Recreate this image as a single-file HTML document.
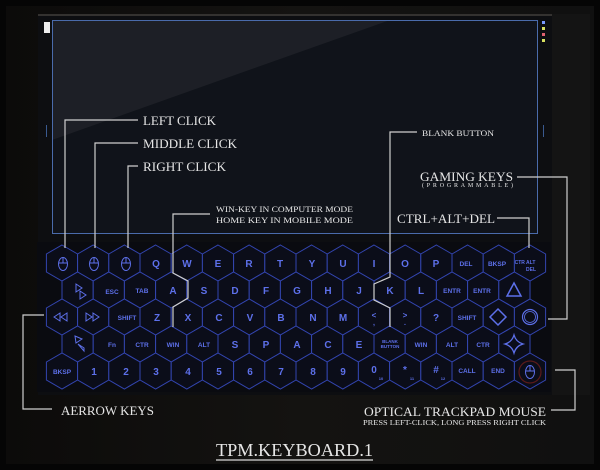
<!DOCTYPE html>
<html><head><meta charset="utf-8"><style>
html,body{margin:0;padding:0;background:#050505;}
svg{display:block;}
.k{font-family:"Liberation Sans",sans-serif;font-weight:bold;fill:#5d70ea;text-anchor:middle;}
.l{font-family:"Liberation Serif",serif;fill:#e6e6e6;}
</style></head><body>
<svg width="600" height="470" viewBox="0 0 600 470" xmlns="http://www.w3.org/2000/svg">
<defs>
<linearGradient id="bgg" x1="0" y1="0" x2="1" y2="0">
<stop offset="0" stop-color="#0c0b0a"/><stop offset="0.5" stop-color="#141311"/><stop offset="1" stop-color="#101010"/>
</linearGradient>
<polygon id="h" points="0,-18 15.6,-9 15.6,9 0,18 -15.6,9 -15.6,-9" fill="#0b0d19" stroke="#3345b0" stroke-width="1"/>
<g id="m"><ellipse cx="0" cy="0" rx="4.5" ry="6.5" fill="none" stroke="#5d70ea" stroke-width="1"/><line x1="0" y1="-6" x2="0" y2="-1" stroke="#5d70ea"/><line x1="-4" y1="-1" x2="4" y2="-1" stroke="#5d70ea"/></g>
</defs>
<rect x="0" y="0" width="600" height="470" fill="#050505"/>
<rect x="6" y="6" width="588" height="458" fill="url(#bgg)"/>
<!-- device -->
<rect x="38" y="14" width="514" height="381" fill="#0d0e11"/>
<line x1="38" y1="15" x2="552" y2="15" stroke="#5a5650" stroke-width="1"/>
<rect x="552" y="14" width="38" height="381" fill="#141414"/>
<!-- screen -->
<rect x="52" y="20" width="486" height="214" fill="#10131a"/>
<polygon points="52,20 390,20 52,140" fill="#1f2128" opacity="0.9"/>
<rect x="52.5" y="20.5" width="485" height="213" fill="none" stroke="#4a6bab" stroke-width="1"/>
<rect x="44" y="22" width="6" height="11" fill="#eee"/>
<rect x="46" y="125" width="1" height="12" fill="#3a5a90"/>
<rect x="543" y="125" width="1" height="12" fill="#3a5a90"/>
<rect x="542" y="21" width="3" height="3" fill="#7a9aff"/>
<rect x="542" y="27" width="3" height="3" fill="#d8e060"/>
<rect x="542" y="33" width="3" height="3" fill="#e06070"/>
<rect x="542" y="39" width="3" height="3" fill="#d8e060"/>
<!-- keyboard panel -->
<rect x="37" y="242" width="514" height="150" fill="#0a0b10"/>
<g>
<!-- row1 y263 -->
<use href="#h" x="62" y="263"/><use href="#h" x="93.2" y="263"/><use href="#h" x="124.4" y="263"/><use href="#h" x="155.6" y="263"/><use href="#h" x="186.8" y="263"/><use href="#h" x="218" y="263"/><use href="#h" x="249.2" y="263"/><use href="#h" x="280.4" y="263"/><use href="#h" x="311.6" y="263"/><use href="#h" x="342.8" y="263"/><use href="#h" x="374" y="263"/><use href="#h" x="405.2" y="263"/><use href="#h" x="436.4" y="263"/><use href="#h" x="467.6" y="263"/><use href="#h" x="498.8" y="263"/><use href="#h" x="530" y="263"/>
<!-- row2 y290 -->
<use href="#h" x="77.6" y="290"/><use href="#h" x="108.8" y="290"/><use href="#h" x="140" y="290"/><use href="#h" x="171.2" y="290"/><use href="#h" x="202.4" y="290"/><use href="#h" x="233.6" y="290"/><use href="#h" x="264.8" y="290"/><use href="#h" x="296" y="290"/><use href="#h" x="327.2" y="290"/><use href="#h" x="358.4" y="290"/><use href="#h" x="389.6" y="290"/><use href="#h" x="420.8" y="290"/><use href="#h" x="452" y="290"/><use href="#h" x="483.2" y="290"/><use href="#h" x="514.4" y="290"/>
<!-- row3 y317 -->
<use href="#h" x="62" y="317"/><use href="#h" x="93.2" y="317"/><use href="#h" x="124.4" y="317"/><use href="#h" x="155.6" y="317"/><use href="#h" x="186.8" y="317"/><use href="#h" x="218" y="317"/><use href="#h" x="249.2" y="317"/><use href="#h" x="280.4" y="317"/><use href="#h" x="311.6" y="317"/><use href="#h" x="342.8" y="317"/><use href="#h" x="374" y="317"/><use href="#h" x="405.2" y="317"/><use href="#h" x="436.4" y="317"/><use href="#h" x="467.6" y="317"/><use href="#h" x="498.8" y="317"/><use href="#h" x="530" y="317"/>
<!-- row4 y344 -->
<use href="#h" x="77.6" y="344"/><use href="#h" x="108.8" y="344"/><use href="#h" x="140" y="344"/><use href="#h" x="171.2" y="344"/><use href="#h" x="202.4" y="344"/><use href="#h" x="233.6" y="344"/><use href="#h" x="264.8" y="344"/><use href="#h" x="296" y="344"/><use href="#h" x="327.2" y="344"/><use href="#h" x="358.4" y="344"/><use href="#h" x="389.6" y="344"/><use href="#h" x="420.8" y="344"/><use href="#h" x="452" y="344"/><use href="#h" x="483.2" y="344"/><use href="#h" x="514.4" y="344"/>
<!-- row5 y371 -->
<use href="#h" x="62" y="371"/><use href="#h" x="93.2" y="371"/><use href="#h" x="124.4" y="371"/><use href="#h" x="155.6" y="371"/><use href="#h" x="186.8" y="371"/><use href="#h" x="218" y="371"/><use href="#h" x="249.2" y="371"/><use href="#h" x="280.4" y="371"/><use href="#h" x="311.6" y="371"/><use href="#h" x="342.8" y="371"/><use href="#h" x="374" y="371"/><use href="#h" x="405.2" y="371"/><use href="#h" x="436.4" y="371"/><use href="#h" x="467.6" y="371"/><use href="#h" x="498.8" y="371"/><use href="#h" x="530" y="371"/>
</g>
<!-- row1 labels -->
<use href="#m" x="63" y="264"/><use href="#m" x="94" y="264"/><use href="#m" x="126" y="264"/>
<g class="k" font-size="10">
<text x="156" y="267">Q</text><text x="187" y="267">W</text><text x="218" y="267">E</text><text x="249" y="267">R</text><text x="280" y="267">T</text><text x="312" y="267">Y</text><text x="343" y="267">U</text><text x="374" y="267">I</text><text x="405" y="267">O</text><text x="436" y="267">P</text>
<text x="173" y="294">A</text><text x="204" y="294">S</text><text x="235" y="294">D</text><text x="266" y="294">F</text><text x="297" y="294">G</text><text x="328" y="294">H</text><text x="359" y="294">J</text><text x="390" y="294">K</text><text x="421" y="294">L</text>
<text x="157" y="321">Z</text><text x="188" y="321">X</text><text x="219" y="321">C</text><text x="250" y="321">V</text><text x="281" y="321">B</text><text x="313" y="321">N</text><text x="343" y="321">M</text><text x="374" y="318" font-size="8">&lt;</text><text x="374" y="325" font-size="7">,</text><text x="405" y="318" font-size="8">&gt;</text><text x="405" y="325" font-size="7">.</text><text x="436" y="321">?</text>
<text x="235" y="348">S</text><text x="266" y="348">P</text><text x="297" y="348">A</text><text x="328" y="348">C</text><text x="359" y="348">E</text>
<text x="94" y="375">1</text><text x="126" y="375">2</text><text x="156" y="375">3</text><text x="188" y="375">4</text><text x="219" y="375">5</text><text x="250" y="375">6</text><text x="281" y="375">7</text><text x="313" y="375">8</text><text x="343" y="375">9</text><text x="374" y="373">0</text><text x="405" y="373">*</text><text x="436" y="373">#</text>
</g>
<g class="k" font-size="4"><text x="381" y="380">10</text><text x="412" y="380">11</text><text x="443" y="380">12</text></g>
<g class="k" font-size="6.5">
<text x="466" y="266">DEL</text><text x="497" y="266">BKSP</text><text x="525" y="264" font-size="5">CTR ALT</text><text x="531" y="271" font-size="5">DEL</text>
<text x="112" y="294">ESC</text><text x="142" y="293">TAB</text><text x="452" y="293">ENTR</text><text x="482" y="293">ENTR</text>
<text x="127" y="320">SHIFT</text><text x="467" y="320">SHIFT</text>
<text x="112" y="347">Fn</text><text x="142" y="347">CTR</text><text x="173" y="347">WIN</text><text x="204" y="347">ALT</text><text x="421" y="347">WIN</text><text x="452" y="347">ALT</text><text x="483" y="347">CTR</text>
<text x="390" y="343" font-size="4.5">BLANK</text><text x="390" y="348" font-size="4.5">BUTTON</text>
<text x="62" y="374">BKSP</text><text x="467" y="373">CALL</text><text x="498" y="373">END</text>
</g>
<!-- arrow / gaming icons -->
<g fill="none" stroke="#5d70ea" stroke-width="1">
<polygon points="76,284 76,292 82,288"/><polygon points="80,291 80,299 86,295"/>
<polygon points="54,317 60,313 60,321"/><polygon points="61,317 67,313 67,321"/>
<polygon points="86,313 86,321 92,317"/><polygon points="93,313 93,321 99,317"/>
<polygon points="75,336 82,339 76,343"/><polygon points="78,344 84,348 84,351"/>
<polygon points="514,283 507,296 521,296" stroke-width="1.5"/>
<polygon points="498,309 506,317 498,325 490,317" stroke-width="1.5"/>
<circle cx="530" cy="317" r="7.5" stroke-width="1.2"/><circle cx="530" cy="317" r="5.5" stroke-width="0.8"/>
<path d="M514,335 Q516,342 523,344 Q516,346 514,353 Q512,346 505,344 Q512,342 514,335Z" stroke-width="1.3"/>
<circle cx="530" cy="372" r="11" stroke="#5a1a1a" stroke-width="1.2"/>
</g>
<use href="#m" x="530" y="372"/>
<!-- leader lines -->
<g fill="none" stroke="#cfcfcf" stroke-width="1.2">
<polyline points="138,120 65,120 65,248"/>
<polyline points="138,143 95,143 95,248"/>
<polyline points="138,166 128,166 128,248"/>
<polyline points="210,214 173,214 173,273 188,281 188,298 173,307 173,327"/>
<polyline points="417,132 390,132 390,277 374,284 374,300 390,308 390,327"/>
<polyline points="497,218 529,218 529,248"/>
<polyline points="517,177 567,177 567,319 548,319"/>
<polyline points="44,315 23,315 23,409 52,409"/>
<polyline points="551,410 575,410 575,370 555,370"/>
</g>
<!-- labels -->
<g class="l">
<text x="143" y="125" font-size="13" textLength="73" lengthAdjust="spacingAndGlyphs">LEFT CLICK</text>
<text x="143" y="148" font-size="13" textLength="94" lengthAdjust="spacingAndGlyphs">MIDDLE CLICK</text>
<text x="143" y="171" font-size="13" textLength="83" lengthAdjust="spacingAndGlyphs">RIGHT CLICK</text>
<text x="216" y="212" font-size="8.5" textLength="137" lengthAdjust="spacingAndGlyphs">WIN-KEY IN COMPUTER MODE</text>
<text x="216" y="223" font-size="8.5" textLength="137" lengthAdjust="spacingAndGlyphs">HOME KEY IN MOBILE MODE</text>
<text x="422" y="136" font-size="8.5" textLength="72" lengthAdjust="spacingAndGlyphs">BLANK BUTTON</text>
<text x="420" y="181" font-size="13" textLength="93" lengthAdjust="spacingAndGlyphs">GAMING KEYS</text>
<text x="422" y="187" font-size="6" textLength="91" lengthAdjust="spacing">(PROGRAMMABLE)</text>
<text x="397" y="223" font-size="13" textLength="98" lengthAdjust="spacingAndGlyphs">CTRL+ALT+DEL</text>
<text x="61" y="415" font-size="12.5" textLength="93" lengthAdjust="spacingAndGlyphs">AERROW KEYS</text>
<text x="364" y="416" font-size="12.5" textLength="182" lengthAdjust="spacingAndGlyphs">OPTICAL TRACKPAD MOUSE</text>
<text x="363" y="425" font-size="7" textLength="183" lengthAdjust="spacingAndGlyphs">PRESS LEFT-CLICK, LONG PRESS RIGHT CLICK</text>
<text x="216" y="456" font-size="18" textLength="157" lengthAdjust="spacingAndGlyphs">TPM.KEYBOARD.1</text>
</g>
<line x1="216" y1="460" x2="373" y2="460" stroke="#d8d8d8" stroke-width="1.2"/>
</svg>
</body></html>
